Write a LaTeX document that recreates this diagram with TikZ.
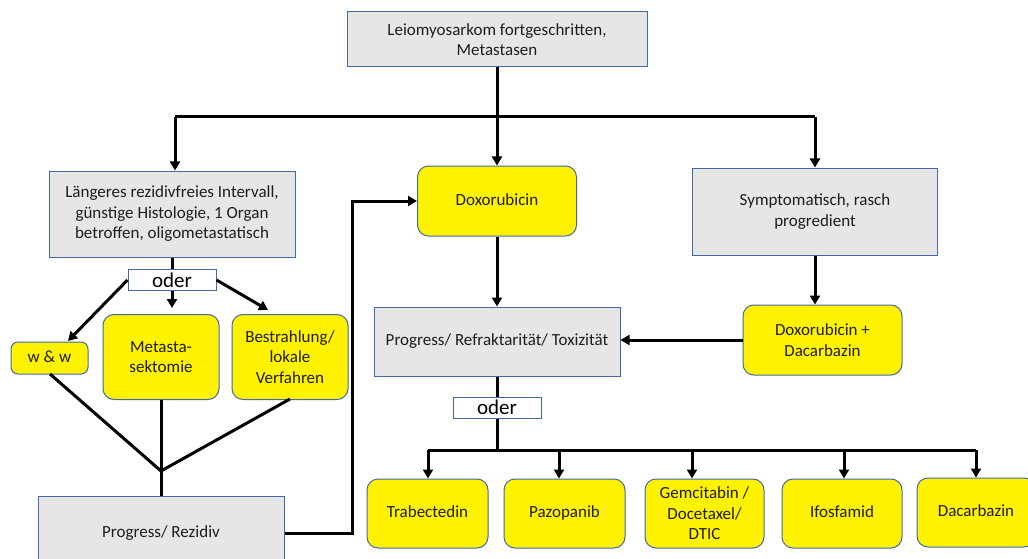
\documentclass[tikz,border=0pt]{standalone}
\usepackage{fontspec}
\setmainfont{Carlito}
\usetikzlibrary{arrows.meta,calc}
\definecolor{bordercol}{RGB}{68,104,168}
\definecolor{grayfill}{RGB}{231,230,230}
\definecolor{txtcol}{RGB}{30,30,30}
\tikzset{
  base/.style={draw=bordercol, line width=1pt, inner sep=0pt, align=center,
    text=txtcol, font=\fontsize{17}{20.5}\selectfont},
  gbox/.style={base, fill=grayfill},
  ybox/.style={base, fill=yellow, rounded corners=11pt},
  one/.style={text height=12pt, text depth=4pt},
  oderbox/.style={base, fill=white, font=\fontsize{21}{22}\selectfont, text=black, text height=15pt, text depth=1pt},
  conn/.style={line width=3pt, black},
  arr/.style={conn, -{Triangle[width=10pt,length=9pt]}},
}
\begin{document}
\begin{tikzpicture}[x=1pt,y=-1pt]
\clip (0,0) rectangle (1028,559);
\fill[white] (0,0) rectangle (1028,559);
% nodes
\node[gbox, minimum width=300, minimum height=55] (top) at (497,39.5) {Leiomyosarkom fortgeschritten,\\Metastasen};
\node[gbox, minimum width=246, minimum height=86] (lbox) at (172,214) {Längeres rezidivfreies Intervall,\\günstige Histologie, 1 Organ\\betroffen, oligometastatisch};
\node[ybox, one, minimum width=159, minimum height=70] (dox) at (497,201) {Doxorubicin};
\node[gbox, minimum width=245, minimum height=87] (sym) at (815,211.5) {Symptomatisch, rasch\\progredient};
\node[oderbox, minimum width=88, minimum height=21] (oder1) at (172,280) {oder};
\node[ybox, one, minimum width=77, minimum height=32, rounded corners=7pt] (ww) at (49.5,358) {w \& w};
\node[ybox, minimum width=116, minimum height=85] (meta) at (161,357) {Metasta-\\sektomie};
\node[ybox, minimum width=116, minimum height=85] (bestr) at (290,357) {Bestrahlung/\\lokale\\Verfahren};
\node[gbox, minimum width=246, minimum height=80] (rez) at (161,536) {};
\node[base, one, draw=none, fill=none] (reztxt) at (161,533) {Progress/ Rezidiv};
\node[gbox, one, minimum width=246, minimum height=69] (refr) at (497,341.5) {Progress/ Refraktarität/ Toxizität};
\node[ybox, minimum width=159, minimum height=70] (dd) at (822.5,340) {Doxorubicin +\\Dacarbazin};
\node[oderbox, minimum width=88, minimum height=21] (oder2) at (497,407.5) {oder};
\node[ybox, one, minimum width=121, minimum height=69] (trab) at (427.5,513.5) {Trabectedin};
\node[ybox, one, minimum width=121, minimum height=69] (pazo) at (564.5,513.5) {Pazopanib};
\node[ybox, minimum width=119, minimum height=69] (gem) at (704.5,513.5) {Gemcitabin /\\Docetaxel/\\DTIC};
\node[ybox, one, minimum width=120, minimum height=69] (ifo) at (842,513.5) {Ifosfamid};
\node[ybox, one, minimum width=118, minimum height=69] (dac) at (976,512.5) {Dacarbazin};
% coordinates
\coordinate (tj) at (497,117);
\coordinate (tl) at (175,117);
\coordinate (tr) at (815,117);
\coordinate (m1) at (172,308);
\coordinate (w1) at (68,341);
\coordinate (b1) at (268,310);
\coordinate (wb) at (50,374);
\coordinate (bb) at (290,399);
\coordinate (jn) at (161,471);
\coordinate (bend) at (352,0);
\coordinate (bj) at (497,450);
\coordinate (bl) at (428,450);
\coordinate (br) at (976,450);
\coordinate (bp) at (559,450);
\coordinate (bg) at (692,450);
\coordinate (bi) at (844,450);
% connectors
\draw[conn] (top.south) -- (tj);
\draw[conn] (tl) -- (tr);
\draw[arr] (tl) -- (tl |- lbox.north);
\draw[arr] (tj) -- (dox.north);
\draw[arr] (tr) -- (sym.north);
\draw[conn] (lbox.south) -- (oder1.north);
\draw[arr] (oder1.south) -- (m1);
\draw[arr] (oder1.west) -- (w1);
\draw[arr] (oder1.east) -- (b1);
\draw[conn] (wb) -- (jn);
\draw[conn] (meta.south) -- (jn);
\draw[conn] (bb) -- (jn);
\draw[conn] (jn) -- (rez.north);
\draw[arr] (reztxt.east -| rez.east) -| (bend |- dox.west) -- (dox.west);
\draw[arr] (dox.south) -- (refr.north);
\draw[arr] (sym.south) -- (sym.south |- dd.north);
\draw[arr] (dd.west) -- (dd.west -| refr.east);
\draw[conn] (refr.south) -- (oder2.north);
\draw[conn] (oder2.south) -- (bj);
\draw[conn] (bl) -- (br);
\draw[arr] (bl) -- (bl |- trab.north);
\draw[arr] (bp) -- (bp |- pazo.north);
\draw[arr] (bg) -- (bg |- gem.north);
\draw[arr] (bi) -- (bi |- ifo.north);
\draw[arr] (br) -- (br |- dac.north);
\end{tikzpicture}
\end{document}
